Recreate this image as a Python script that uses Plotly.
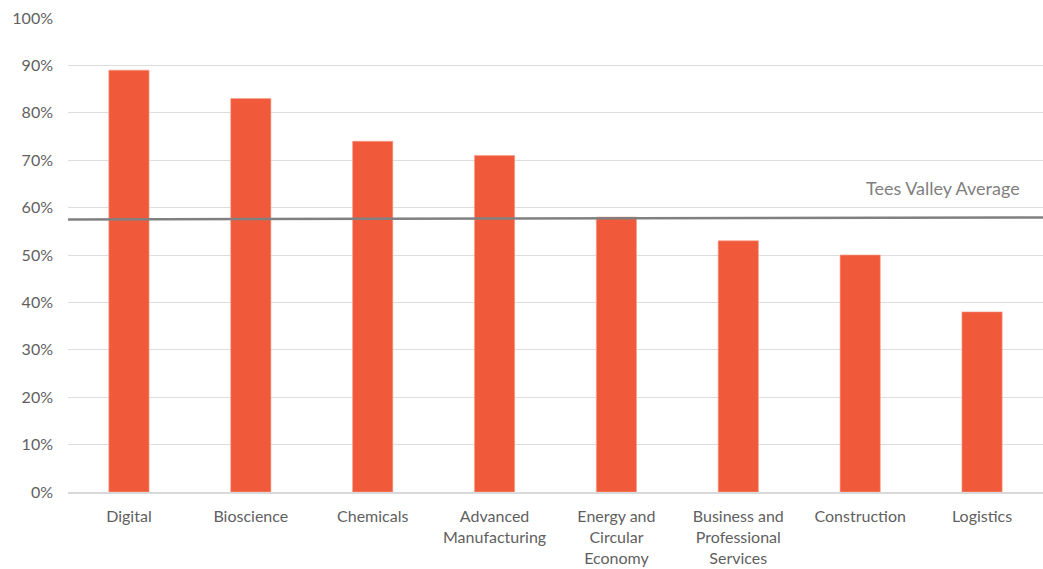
import plotly.graph_objects as go

# Share of businesses by sector (%)
sectors = [
    "Digital",
    "Bioscience",
    "Chemicals",
    "Advanced<br>Manufacturing",
    "Energy and<br>Circular<br>Economy",
    "Business and<br>Professional<br>Services",
    "Construction",
    "Logistics",
]
shares = [89, 83, 74, 71, 58, 53, 50, 38]

# Tees Valley average reference line (left end, right end)
average_ends = [57.5, 57.9]
average_label = "Tees Valley Average"

y_ticks = list(range(0, 101, 10))
y_tick_text = [f"{v}%" for v in y_ticks]

FONT = "Lato, 'Open Sans', sans-serif"
GREY = "#5F5F5F"

fig = go.Figure()
fig.add_trace(go.Bar(
    x=sectors,
    y=shares,
    marker=dict(color="#F05A3A", line=dict(color="#F7A08C", width=0.6)),
    width=0.33,
    hoverinfo="x+y",
))

fig.add_shape(
    type="line", xref="paper", yref="y",
    x0=0, x1=1, y0=average_ends[0], y1=average_ends[1],
    line=dict(color="#808080", width=2.5),
)
fig.add_annotation(
    xref="paper", yref="y", x=0.978, y=average_ends[1] + 3.4,
    text=average_label, showarrow=False, xanchor="right", yanchor="bottom",
    font=dict(family=FONT, size=18, color="#7F7F7F"),
)

fig.update_layout(
    width=1043, height=569,
    margin=dict(l=68, r=0, t=18, b=77),
    paper_bgcolor="white", plot_bgcolor="white",
    showlegend=False,
    font=dict(family=FONT, size=16, color=GREY),
    xaxis=dict(
        showgrid=False, showline=True, linecolor="#D9D9D9", linewidth=1.5,
        ticks="", tickfont=dict(family=FONT, size=16, color=GREY),
        ticklabelstandoff=9,
    ),
    yaxis=dict(
        range=[0, 100], tickvals=y_ticks, ticktext=y_tick_text,
        showgrid=True, gridcolor="#DDDDDD", gridwidth=1,
        zeroline=False, showline=False, ticks="",
        tickfont=dict(family=FONT, size=16, color=GREY),
        ticklabelstandoff=14,
    ),
)

fig.write_html("out.html")
